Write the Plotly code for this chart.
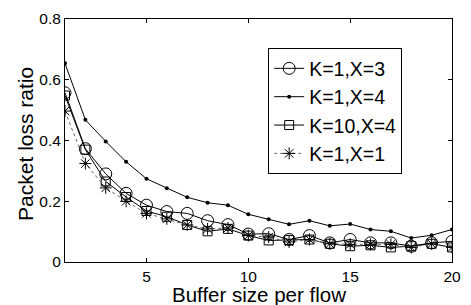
import plotly.graph_objects as go

buffer_size = list(range(1, 21))
k1_x3 = [0.557, 0.373, 0.290, 0.226, 0.187, 0.166, 0.160, 0.136, 0.123, 0.092,
         0.093, 0.074, 0.087, 0.063, 0.074, 0.063, 0.063, 0.052, 0.063, 0.068]
k1_x4 = [0.654, 0.468, 0.397, 0.330, 0.274, 0.243, 0.213, 0.195, 0.187, 0.157,
         0.141, 0.124, 0.136, 0.119, 0.125, 0.107, 0.101, 0.079, 0.088, 0.107]
k10_x4 = [0.548, 0.370, 0.265, 0.214, 0.168, 0.149, 0.122, 0.101, 0.109, 0.087,
          0.071, 0.072, 0.074, 0.060, 0.052, 0.055, 0.048, 0.052, 0.060, 0.048]
k1_x1 = [0.497, 0.324, 0.244, 0.200, 0.160, 0.142, 0.122, 0.109, 0.112, 0.087,
         0.082, 0.066, 0.074, 0.060, 0.058, 0.058, 0.058, 0.048, 0.060, 0.048]
series_names = ["K=1,X=3", "K=1,X=4", "K=10,X=4", "K=1,X=1"]
y_ticks = [0, 0.2, 0.4, 0.6, 0.8]
y_tick_labels = ["0", "0.2", "0.4", "0.6", "0.8"]
x_ticks = [5, 10, 15, 20]
x_title = "Buffer size per flow"
y_title = "Packet loss ratio"

FONT = "Liberation Sans, Arial, Helvetica, sans-serif"

fig = go.Figure()
fig.add_trace(go.Scatter(x=buffer_size, y=k1_x3, name=series_names[0], mode="lines+markers",
                         line=dict(color="black", width=1),
                         marker=dict(symbol="circle-open", size=12, color="black", line=dict(width=1))))
fig.add_trace(go.Scatter(x=buffer_size, y=k1_x4, name=series_names[1], mode="lines+markers",
                         line=dict(color="black", width=1),
                         marker=dict(symbol="circle", size=4, color="black")))
fig.add_trace(go.Scatter(x=buffer_size, y=k10_x4, name=series_names[2], mode="lines+markers",
                         line=dict(color="black", width=1),
                         marker=dict(symbol="square-open", size=9, color="black", line=dict(width=1))))
fig.add_trace(go.Scatter(x=buffer_size, y=k1_x1, name=series_names[3], mode="lines+markers",
                         line=dict(color="#666666", width=1, dash="dot"),
                         marker=dict(symbol="asterisk-open", size=10, color="black", line=dict(width=1, color="black"))))

axis_common = dict(showline=True, linecolor="black", linewidth=1, mirror="ticks",
                   ticks="inside", ticklen=4, tickcolor="black", showgrid=False, zeroline=False,
                   tickfont=dict(family=FONT, size=15.5, color="black"))
fig.update_xaxes(range=[1, 20], tickvals=x_ticks, **axis_common)
fig.update_yaxes(range=[0, 0.8], tickvals=y_ticks, ticktext=y_tick_labels, **axis_common)
fig.add_annotation(text=x_title, xref="paper", yref="paper", x=0.5, y=-0.135,
                   xanchor="center", yanchor="middle", showarrow=False,
                   font=dict(family=FONT, size=20.5, color="black"))
fig.add_annotation(text=y_title, xref="paper", yref="paper", x=-0.104, y=0.485,
                   xanchor="center", yanchor="middle", showarrow=False, textangle=-90,
                   font=dict(family=FONT, size=21, color="black"))
fig.update_layout(
    width=471, height=305,
    margin=dict(l=65, r=10, t=14, b=43),
    plot_bgcolor="white", paper_bgcolor="white",
    showlegend=True,
    legend=dict(x=0.525, y=0.88, xanchor="left", yanchor="top",
                bgcolor="white", bordercolor="black", borderwidth=1,
                font=dict(family=FONT, size=19.5, color="black"),
                tracegroupgap=0, itemwidth=30),
)
fig.write_html("out.html", config={"displayModeBar": False},
               post_script="document.body.style.margin='0';")
